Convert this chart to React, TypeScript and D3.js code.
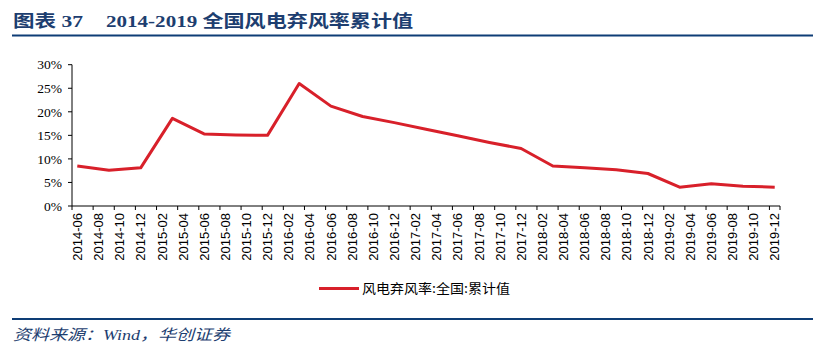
import React from "react";
import * as d3 from "d3";

const W = 836;
const H = 359;

// Monthly category axis (2014-06 .. 2019-12), labels every 2 months
const startMonth = new Date(2014, 5, 1);
const endMonth = new Date(2019, 11, 1);
const months = d3.timeMonth.range(startMonth, d3.timeMonth.offset(endMonth, 1)).map(d3.timeFormat("%Y-%m"));

const tickLabels = [
  "2014-06","2014-08","2014-10","2014-12",
  "2015-02","2015-04","2015-06","2015-08","2015-10","2015-12",
  "2016-02","2016-04","2016-06","2016-08","2016-10","2016-12",
  "2017-02","2017-04","2017-06","2017-08","2017-10","2017-12",
  "2018-02","2018-04","2018-06","2018-08","2018-10","2018-12",
  "2019-02","2019-04","2019-06","2019-08","2019-10","2019-12",
];

// Quarterly observations of the cumulative curtailment rate (%)
const obsDates = [
  "2014-06","2014-09","2014-12",
  "2015-03","2015-06","2015-09","2015-12",
  "2016-03","2016-06","2016-09","2016-12",
  "2017-03","2017-06","2017-09","2017-12",
  "2018-03","2018-06","2018-09","2018-12",
  "2019-03","2019-06","2019-09","2019-12",
];
const obsValues = [
  8.5, 7.6, 8.1,
  18.6, 15.3, 15.1, 15.0,
  26.0, 21.2, 19.0, 17.7,
  16.3, 14.9, 13.5, 12.2,
  8.5, 8.1, 7.7, 6.9,
  4.0, 4.7, 4.2, 4.0,
];

const yTicks = [0, 5, 10, 15, 20, 25, 30];

const seriesName = "风电弃风率:全国:累计值";
const titleLeft = "图表 37";
const titleRight = "2014-2019 全国风电弃风率累计值";
const sourceText = "资料来源：Wind，华创证券";

export default function App() {
  const x = d3.scaleBand<string>().domain(months).range([72, 780]).paddingInner(0).paddingOuter(0);
  const y = d3.scaleLinear().domain([0, 30]).range([206, 64.7]);
  const bw = x.bandwidth();
  const cx = (m: string) => (x(m) as number) + bw / 2;

  const pts = obsDates.map((d, i) => ({ d, v: obsValues[i] }));
  const line = d3
    .line<{ d: string; v: number }>()
    .x((p) => cx(p.d))
    .y((p) => y(p.v));

  const tickBounds = months
    .map((m, i) => (i % 2 === 0 ? (x(m) as number) : null))
    .filter((v) => v !== null) as number[];

  const navy = "#0e3d76";

  return (
    <svg
      width={W}
      height={H}
      style={{ position: "absolute", left: 0, top: 0, background: "#fff" }}
    >
      {/* Title */}
      <text
        x={13}
        y={27}
        fill="#1d3e70"
        fontFamily="'Liberation Serif','Noto Sans CJK SC',serif"
        fontWeight="bold"
        fontSize={17}
        textLength={70}
        lengthAdjust="spacingAndGlyphs"
      >
        {titleLeft}
      </text>
      <text
        x={106}
        y={27}
        fill="#1d3e70"
        fontFamily="'Liberation Serif','Noto Sans CJK SC',serif"
        fontWeight="bold"
        fontSize={17}
        textLength={307}
        lengthAdjust="spacingAndGlyphs"
      >
        {titleRight}
      </text>
      <line x1={12} x2={813} y1={35.5} y2={35.5} stroke={navy} strokeWidth={2.2} />

      {/* Y axis */}
      <line x1={72} x2={72} y1={y(30)} y2={206} stroke="#000" strokeWidth={1} />
      {yTicks.map((t) => (
        <g key={t}>
          <line x1={68} x2={72} y1={y(t)} y2={y(t)} stroke="#000" strokeWidth={1} />
          <text
            x={62}
            y={y(t)}
            dy="0.35em"
            textAnchor="end"
            fontFamily="'Liberation Serif',serif"
            fontSize={13.5}
            fill="#000"
          >
            {t}%
          </text>
        </g>
      ))}

      {/* X axis */}
      <line x1={72} x2={780} y1={206} y2={206} stroke="#000" strokeWidth={1} />
      {tickBounds.map((bx, i) => (
        <line key={i} x1={bx} x2={bx} y1={206} y2={210} stroke="#000" strokeWidth={1} />
      ))}
      <line x1={780} x2={780} y1={206} y2={210} stroke="#000" strokeWidth={1} />
      {tickLabels.map((lab) => (
        <text
          key={lab}
          transform={`translate(${cx(lab)},213) rotate(-90)`}
          dy="0.36em"
          textAnchor="end"
          fontFamily="'Liberation Sans',Arial,sans-serif"
          fontSize={13}
          fill="#000"
        >
          {lab}
        </text>
      ))}

      {/* Series */}
      <path
        d={line(pts) || ""}
        fill="none"
        stroke="#d8202a"
        strokeWidth={3}
        strokeLinejoin="round"
      />

      {/* Legend */}
      <line x1={319} x2={359} y1={288.5} y2={288.5} stroke="#d8202a" strokeWidth={3} />
      <text
        x={362}
        y={288.5}
        dy="0.36em"
        fontFamily="'Noto Sans CJK SC',sans-serif"
        fontSize={13}
        fill="#000"
        textLength={148}
        lengthAdjust="spacingAndGlyphs"
      >
        {seriesName}
      </text>

      {/* Footer */}
      <line x1={12} x2={813} y1={319} y2={319} stroke={navy} strokeWidth={2.2} />
      <text
        x={13}
        y={340}
        fill="#1d3e70"
        fontFamily="'Liberation Serif','Noto Sans CJK SC',serif"
        fontStyle="italic"
        fontSize={15}
        textLength={217}
        lengthAdjust="spacingAndGlyphs"
      >
        {sourceText}
      </text>
    </svg>
  );
}
